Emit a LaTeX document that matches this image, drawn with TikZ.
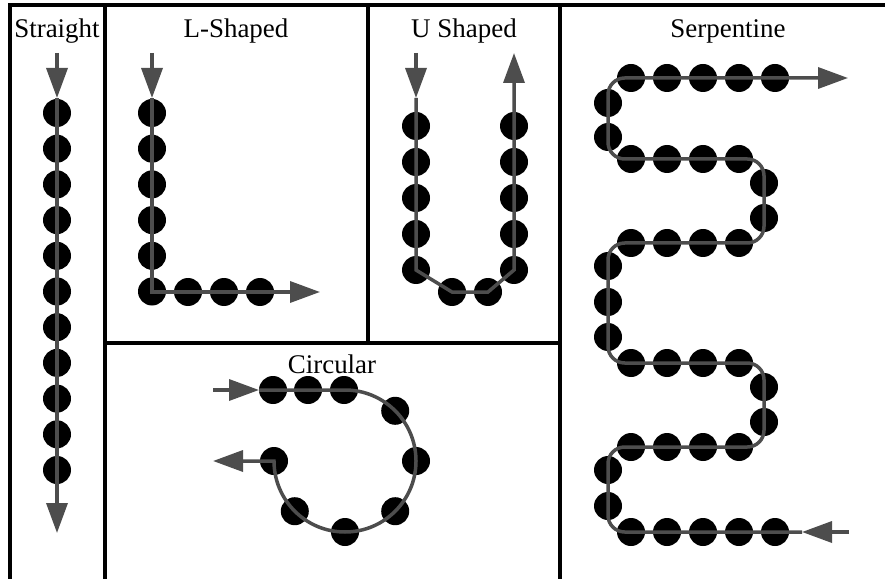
\documentclass[tikz,border=0pt]{standalone}
\usepackage{fontspec}
\setmainfont{Liberation Serif}
\usetikzlibrary{arrows.meta}
\definecolor{flowgray}{HTML}{4D4D4D}
\tikzset{
  wall/.style={draw=black,line width=1mm},
  pipe/.style={draw=flowgray,line width=1.05mm},
  flow/.style={pipe,-{Triangle[length=9mm,width=6.3mm]}},
  title/.style={anchor=base,font=\fontsize{23}{27}\selectfont},
}
\newcommand{\ball}[2]{\fill (#1,#2) circle (4.2mm);}
\begin{document}
\begin{tikzpicture}[x=0.3mm,y=-0.3mm]
  \useasboundingbox (0,0) rectangle (885,579);
  % panel frames
  \draw[wall] (10,579)--(10,5)--(885,5);
  \draw[wall] (105,5)--(105,579);
  \draw[wall] (368,5)--(368,343);
  \draw[wall] (560,5)--(560,579);
  \draw[wall] (105,343)--(560,343);
  \node[title] (straight) at (57,38) {Straight};
  \node[title] (lshaped) at (236,38) {L-Shaped};
  \node[title] (ushaped) at (464,38) {U Shaped};
  \node[title] (serpentine) at (728,38) {Serpentine};
  \node[title] (circular) at (332,373) {Circular};

  % straight
  \foreach \i in {0,...,10} {\ball{57}{113+35.7*\i}}
  \draw[flow] (57,53)--(57,98);
  \draw[flow] (57,98)--(57,533);

  % L-shaped
  \foreach \i in {0,...,5} {\ball{152}{113+35.7*\i}}
  \foreach \i in {1,2,3} {\ball{152+36*\i}{292}}
  \draw[flow] (152,53)--(152,98);
  \draw[flow] (152,98)--(152,292)--(320,292);

  % U shaped
  \foreach \i in {0,...,4} {\ball{416}{126+36*\i}\ball{514}{126+36*\i}}
  \ball{452}{292}\ball{488}{292}
  \draw[flow] (416,53)--(416,98);
  \draw[flow] (416,98)--(416,270)--(452,292)--(488,292)--(514,270)--(514,53);

  % serpentine
  \foreach \x in {631,667,703,739,775} {\ball{\x}{78}\ball{\x}{532}}
  \foreach \y in {159,243,363,447}
    \foreach \x in {631,667,703,739} {\ball{\x}{\y}}
  \foreach \y in {103,137,266,302,337,470,506} {\ball{608}{\y}}
  \foreach \y in {183,218,387,422} {\ball{764}{\y}}
  \draw[flow] (849,532)--(802,532);
  \draw[flow,rounded corners=5mm] (802,532)--(608,532)--(608,447)--(764,447)--(764,363)
    --(608,363)--(608,243)--(764,243)--(764,159)--(608,159)--(608,78)--(848,78);

  % circular
  \foreach \x in {273,308,344} {\ball{\x}{390}}
  \foreach \a in {45,0,-45,-90,-135,180} {\fill[shift={(345,461)}] (\a:21.3mm) circle (4.2mm);}
  \draw[flow] (213,390)--(259,390);
  \draw[flow] (259,390)--(345,390) arc[start angle=90,end angle=-180,radius=21.3mm]--(213,461);
\end{tikzpicture}
\end{document}
